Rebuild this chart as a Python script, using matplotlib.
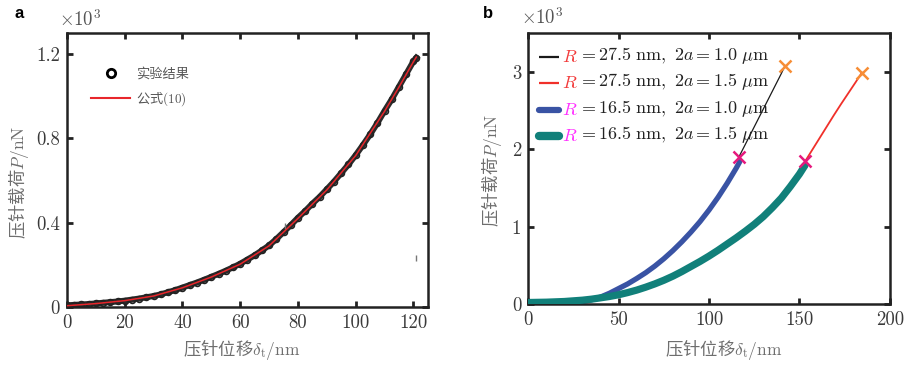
import matplotlib
matplotlib.use("Agg")
import matplotlib.pyplot as plt
from matplotlib.lines import Line2D

plt.rcParams["mathtext.fontset"] = "cm"
plt.rcParams["font.family"] = ["Noto Sans CJK SC", "DejaVu Sans"]

# ---- panel a: experiment vs formula (10), load in 10^3 nN ----
exp_depth = [0, 2.5, 5, 7.5, 10, 12.5, 15, 17.5, 20, 22.5, 25, 27.5, 30, 32.5, 35, 37.5,
             40, 42.5, 45, 47.5, 50, 52.5, 55, 57.5, 60, 62.5, 65, 67.5, 70, 72.5, 75,
             77.5, 80, 82.5, 85, 87.5, 90, 92.5, 95, 97.5, 100, 102.5, 105, 107.5, 110,
             112.5, 115, 117.5, 120, 121]
exp_load = [0.008, 0.010, 0.012, 0.014, 0.017, 0.020, 0.023, 0.026, 0.030, 0.035, 0.040,
            0.046, 0.052, 0.060, 0.070, 0.080, 0.092, 0.104, 0.116, 0.129, 0.143, 0.157,
            0.172, 0.188, 0.205, 0.225, 0.245, 0.268, 0.292, 0.322, 0.355, 0.388, 0.423,
            0.455, 0.490, 0.522, 0.558, 0.595, 0.635, 0.676, 0.720, 0.768, 0.818, 0.872,
            0.930, 0.985, 1.045, 1.105, 1.165, 1.182]
fit_depth = [0, 10, 20, 30, 40, 50, 60, 70, 80, 90, 100, 110, 115, 120, 121]
fit_load = [0.006, 0.016, 0.030, 0.052, 0.091, 0.142, 0.203, 0.290, 0.420, 0.555,
            0.718, 0.928, 1.043, 1.163, 1.185]
stray_depth = [75.5, 121]
stray_load = [0.385, 0.23]

# ---- panel b: four simulated cases ----
blue_depth = [0, 5, 10, 15, 20, 25, 30, 35, 40, 45, 50, 55, 60, 65, 70, 75, 80, 85, 90,
              95, 100, 105, 110, 115, 117]
blue_load = [0.0, 0.0, 0.002, 0.004, 0.008, 0.016, 0.03, 0.055, 0.09, 0.14, 0.20, 0.26,
             0.33, 0.405, 0.49, 0.585, 0.69, 0.805, 0.93, 1.065, 1.215, 1.38, 1.56, 1.755,
             1.84]
teal_depth = [0, 10, 20, 30, 35, 40, 45, 50, 55, 60, 65, 70, 75, 80, 85, 90, 95, 100,
              105, 110, 115, 120, 125, 130, 135, 140, 145, 150, 153]
teal_load = [0.02, 0.024, 0.033, 0.05, 0.063, 0.08, 0.098, 0.12, 0.148, 0.18, 0.218, 0.26,
             0.307, 0.36, 0.42, 0.485, 0.55, 0.62, 0.695, 0.775, 0.855, 0.94, 1.03, 1.13,
             1.245, 1.37, 1.52, 1.68, 1.79]
black_depth = [116.5, 120, 125, 130, 135, 140, 142]
black_load = [1.90, 2.06, 2.29, 2.52, 2.75, 2.98, 3.08]
red_depth = [153, 157, 161, 165, 169, 173, 177, 181, 184.5]
red_load = [1.84, 1.99, 2.14, 2.29, 2.44, 2.585, 2.725, 2.865, 2.99]
yield_pts = ([116.5, 153], [1.90, 1.85])
break_pts = ([142, 184.5], [3.08, 2.99])

legend_b = [r"$ = 27.5\ \mathrm{nm},\ 2a = 1.0\ \mathrm{\mu m}$",
            r"$ = 27.5\ \mathrm{nm},\ 2a = 1.5\ \mathrm{\mu m}$",
            r"$ = 16.5\ \mathrm{nm},\ 2a = 1.0\ \mathrm{\mu m}$",
            r"$ = 16.5\ \mathrm{nm},\ 2a = 1.5\ \mathrm{\mu m}$"]

BLUE = "#3953a4"
TEAL = "#11807a"
LABEL_C = "#6e6e6e"
TICK_C = "#3a3a3a"


def style_axes(ax, xt, xl, yt, yl):
    for s in ax.spines.values():
        s.set_linewidth(1.8)
        s.set_color("#222222")
    ax.tick_params(direction="in", length=4, width=2, top=True, right=True,
                   colors="#222222", labelcolor=TICK_C, pad=5)
    ax.set_xticks(xt)
    ax.set_xticklabels(xl, fontfamily="cmr10", fontsize=13.5)
    ax.set_yticks(yt)
    ax.set_yticklabels(yl, fontfamily="cmr10", fontsize=13.5)


fig = plt.figure(figsize=(9.09, 3.65), dpi=100)
axa = fig.add_axes([0.0737, 0.159, 0.397, 0.751])
axb = fig.add_axes([0.581, 0.167, 0.398, 0.742])

# panel a
axa.plot(exp_depth, exp_load, color="#2b2b2b", lw=4.3, marker="o", ms=4.2,
         mfc="none", mec="#222222", mew=1.2, zorder=2)
axa.plot(stray_depth, stray_load, ls="none", marker="|", ms=5, color="#777777", zorder=2)
axa.plot(fit_depth, fit_load, color="#e8262b", lw=1.1, zorder=3)
axa.set_xlim(0, 125)
axa.set_ylim(0, 1.3)
style_axes(axa, [0, 20, 40, 60, 80, 100, 120], ["0", "20", "40", "60", "80", "100", "120"],
           [0, 0.4, 0.8, 1.2], ["0", "0.4", "0.8", "1.2"])

h_exp = Line2D([], [], ls="none", marker="o", ms=6, mfc="white", mec="black", mew=2)
h_fit = Line2D([], [], color="#e8262b", lw=1.5)
axa.legend([h_exp, h_fit], ["实验结果", r"公式$(10)$"], loc="upper left",
           bbox_to_anchor=(0.035, 0.915), frameon=False, fontsize=9.5,
           handlelength=2.9, handletextpad=0.45, labelspacing=0.7, labelcolor="#555555")

# panel b
axb.plot(blue_depth, blue_load, color=BLUE, lw=3.8, solid_capstyle="round", zorder=2)
axb.plot(teal_depth, teal_load, color=TEAL, lw=5.2, solid_capstyle="round", zorder=3)
axb.plot(black_depth, black_load, color="#1a1a1a", lw=0.9, zorder=4)
axb.plot(red_depth, red_load, color="#f0302a", lw=1.3, zorder=4)
axb.plot(*yield_pts, ls="none", marker="x", ms=8, mew=1.8, color="#e6197e", zorder=5)
axb.plot(*break_pts, ls="none", marker="x", ms=8, mew=1.8, color="#f78d35", zorder=5)
axb.set_xlim(0, 200)
axb.set_ylim(0, 3.5)
style_axes(axb, [0, 50, 100, 150, 200], ["0", "50", "100", "150", "200"],
           [0, 1, 2, 3], ["0", "1", "2", "3"])

# hand-built legend so that R can take its own colour
rows_y = [0.911, 0.815, 0.716, 0.620]
handle_style = [("#1a1a1a", 1.6), ("#f0302a", 1.6), (BLUE, 4.5), (TEAL, 6.0)]
r_colors = ["#f23b3b", "#f23b3b", "#ff30ff", "#ff30ff"]
for y, (hc, hw), rc, txt in zip(rows_y, handle_style, r_colors, legend_b):
    axb.plot([0.03, 0.085], [y, y], transform=axb.transAxes, color=hc, lw=hw,
             solid_capstyle="round" if hw > 3 else "butt", clip_on=False, zorder=6)
    rt = axb.text(0.094, y, r"$R$", transform=axb.transAxes, color=rc,
                  fontsize=13, va="center", ha="left", zorder=6)
    axb.annotate(txt, xy=(1, 0), xycoords=rt, va="bottom", ha="left",
                 fontsize=13, color="#222222", zorder=6)

# labels, multipliers and panel letters
ylab = r"压针载荷$P/\mathrm{nN}$"
xlab = r"压针位移$\delta_\mathrm{t}/\mathrm{nm}$"
fig.text(0.020, 0.50, ylab, rotation=90, ha="center", va="center", fontsize=12.5, color=LABEL_C)
fig.text(0.541, 0.534, ylab, rotation=90, ha="center", va="center", fontsize=12.5, color=LABEL_C)
fig.text(0.266, 0.040, xlab, ha="center", va="center", fontsize=12.5, color=LABEL_C)
fig.text(0.796, 0.040, xlab, ha="center", va="center", fontsize=12.5, color=LABEL_C)
fig.text(0.065, 0.945, r"$\times10^3$", ha="left", va="center", fontsize=13.5, color="#555555")
fig.text(0.573, 0.948, r"$\times10^3$", ha="left", va="center", fontsize=13.5, color="#555555")
fig.text(0.016, 0.962, "a", fontfamily="Liberation Sans", fontweight="bold", fontsize=12,
         ha="left", va="center")
fig.text(0.531, 0.962, "b", fontfamily="Liberation Sans", fontweight="bold", fontsize=12,
         ha="left", va="center")

fig.savefig("out.png", dpi=100, facecolor="white")
plt.close(fig)
